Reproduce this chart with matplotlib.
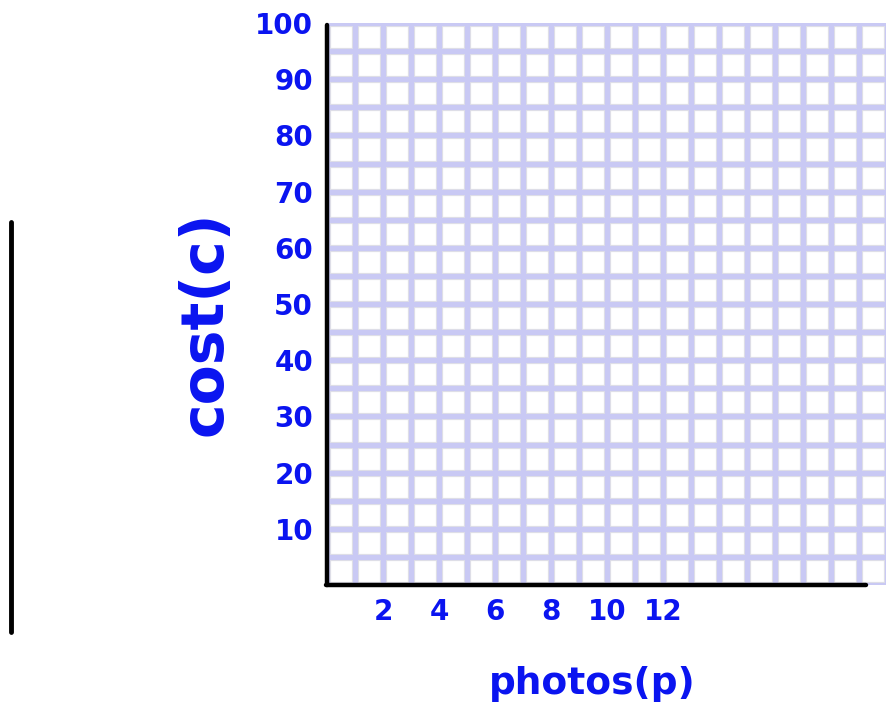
import numpy as np
import matplotlib.pyplot as plt
from matplotlib.lines import Line2D

# blank grid for cost vs photos
photo_ticks = [2, 4, 6, 8, 10, 12]
cost_ticks = [10, 20, 30, 40, 50, 60, 70, 80, 90, 100]
photo_cells = np.arange(0, 21, 1)      # one cell per photo
cost_cells = np.arange(0, 101, 5)      # one cell per 5 cost

blue = "#0a14f0"
lav = "#c9c9f4"

fig = plt.figure(figsize=(8.87, 7.27), dpi=100)
ax = fig.add_axes([327 / 887, 142 / 727, 560 / 887, 562 / 727])
ax.set_xlim(0, 20)
ax.set_ylim(0, 100)

# grid: faint grey edge under a lavender line
ax.vlines(photo_cells, 0, 100, color="#e2e2e6", lw=5.2, zorder=1)
ax.hlines(cost_cells, 0, 20, color="#e2e2e6", lw=5.2, zorder=1)
ax.vlines(photo_cells, 0, 100, color=lav, lw=3.8, zorder=2)
ax.hlines(cost_cells, 0, 20, color=lav, lw=3.8, zorder=2)

for s in ["top", "right"]:
    ax.spines[s].set_visible(False)
ax.spines["left"].set_bounds(0, 99.6)
ax.spines["bottom"].set_bounds(-0.05, 19.25)
for s in ["left", "bottom"]:
    ax.spines[s].set_linewidth(3.2)
    ax.spines[s].set_color("black")
    ax.spines[s].set_capstyle("round")
    ax.spines[s].set_zorder(5)

ax.set_xticks(photo_ticks, labels=[str(v) for v in photo_ticks])
ax.set_yticks(cost_ticks, labels=[str(v) for v in cost_ticks])
ax.tick_params(length=0, labelcolor=blue, labelsize=20)
ax.tick_params(axis="x", pad=9)
ax.tick_params(axis="y", pad=10)
for lab in ax.get_xticklabels() + ax.get_yticklabels():
    lab.set_fontweight("bold")

fig.text(592 / 887, 1 - 684 / 727, "photos(p)", color=blue, fontsize=27,
         fontweight="bold", ha="center", va="center")
fig.text(205 / 887, 1 - 323 / 727, "cost(c)", color=blue, fontsize=42,
         fontweight="bold", rotation=90, ha="center", va="center")

# stray pen stroke on the left edge
fig.add_artist(Line2D([11 / 887, 11 / 887], [1 - 222 / 727, 1 - 632 / 727],
                      color="black", lw=3.5, solid_capstyle="round"))

fig.savefig("out.png", dpi=100)
